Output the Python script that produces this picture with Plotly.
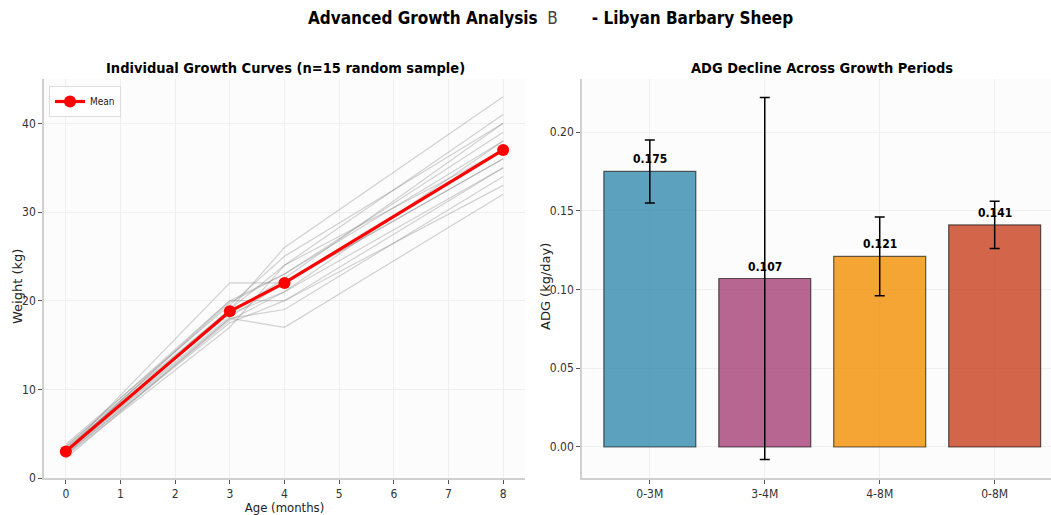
import plotly.graph_objects as go

# ---------------- data ----------------
ages = [0, 3, 4, 8]
individual_weights = [
    [3.0, 22.0, 22.0, 36.0],
    [3.5, 20.0, 20.0, 35.0],
    [2.8, 18.0, 17.0, 32.0],
    [3.2, 19.0, 26.0, 43.0],
    [2.5, 17.0, 24.0, 41.0],
    [3.8, 19.5, 25.0, 40.0],
    [2.2, 18.0, 19.0, 34.0],
    [3.0, 20.0, 23.0, 39.0],
    [3.3, 18.5, 21.0, 38.0],
    [2.7, 17.5, 20.0, 33.0],
    [3.6, 19.0, 24.0, 37.0],
    [2.9, 18.2, 22.0, 36.0],
    [3.1, 19.8, 23.0, 38.0],
    [2.6, 17.8, 21.0, 35.0],
    [3.4, 18.6, 22.5, 40.0],
]
mean_weights = [3.0, 18.8, 22.0, 37.0]

periods = ["0-3M", "3-4M", "4-8M", "0-8M"]
adg_values = [0.175, 0.107, 0.121, 0.141]
adg_errors = [0.020, 0.115, 0.025, 0.015]
bar_colors = ["rgba(46,134,171,0.78)", "rgba(162,59,114,0.78)",
              "rgba(241,143,1,0.8)", "rgba(199,62,29,0.8)"]

W, H = 1051, 515
COND = "DejaVu Sans Condensed, DejaVu Sans, sans-serif"
REG = "DejaVu Sans, sans-serif"

fig = go.Figure()

for i, w in enumerate(individual_weights):
    fig.add_trace(go.Scatter(x=ages, y=w, mode="lines",
                             line=dict(color="rgba(128,128,128,0.35)", width=1.2),
                             showlegend=False, hoverinfo="skip",
                             xaxis="x", yaxis="y"))
fig.add_trace(go.Scatter(x=ages, y=mean_weights, mode="lines+markers", name="Mean",
                         line=dict(color="#FF0000", width=3.2),
                         marker=dict(color="#FF0000", size=12),
                         xaxis="x", yaxis="y"))

fig.add_trace(go.Bar(x=periods, y=adg_values, width=0.8,
                     marker=dict(color=bar_colors,
                                 line=dict(color="rgba(0,0,0,0.6)", width=1.2)),
                     error_y=dict(type="data", array=adg_errors, visible=True,
                                  color="black", thickness=1.5, width=5),
                     showlegend=False, xaxis="x2", yaxis="y2"))

for p, v, e in zip(periods, adg_values, adg_errors):
    fig.add_annotation(x=p, y=v, xref="x2", yref="y2", text="<b>%.3f</b>" % v,
                       showarrow=False, yanchor="bottom", yshift=3,
                       font=dict(family=COND, size=12, color="black"))

ydom = [1 - 478 / H, 1 - 79 / H]
axis_common = dict(showline=True, linecolor="#D0D0D0", linewidth=1.5, mirror=False,
                   ticks="outside", ticklen=4, tickcolor="#555", tickwidth=1,
                   showgrid=True, gridcolor="#EFEFEF", gridwidth=1,
                   zeroline=False, automargin=False,
                   tickfont=dict(family=COND, size=12, color="#333"))

fig.update_layout(
    width=W, height=H,
    margin=dict(l=0, r=0, t=0, b=0),
    paper_bgcolor="white", plot_bgcolor="#FCFCFC",
    template="none",
    xaxis=dict(domain=[44 / W, 525 / W], range=[-0.4, 8.4], tickmode="array",
               tickvals=list(range(9)), anchor="y",
               title=dict(text="Age (months)", font=dict(family=COND, size=13, color="#222"),
                          standoff=4),
               **axis_common),
    yaxis=dict(domain=ydom, range=[0, 45], tickvals=[0, 10, 20, 30, 40], anchor="x",
               **axis_common),
    xaxis2=dict(domain=[582 / W, 1.0], range=[-0.59, 3.49], anchor="y2",
                **axis_common),
    yaxis2=dict(domain=ydom, range=[-0.0197, 0.2337], anchor="x2",
                tickvals=[0, 0.05, 0.10, 0.15, 0.20], tickformat=".2f",
                **axis_common),
    legend=dict(x=49 / W, y=1 - 86 / H, xanchor="left", yanchor="top",
                bgcolor="rgba(255,255,255,0.9)", bordercolor="#DDDDDD", borderwidth=1,
                font=dict(family=COND, size=10, color="#222"),
                itemwidth=30, tracegroupgap=0),
    showlegend=True,
)

# axis titles (y)
fig.add_annotation(xref="paper", yref="paper", x=17 / W, y=1 - 287 / H,
                   text="Weight (kg)", textangle=-90, showarrow=False,
                   xanchor="center", yanchor="middle",
                   font=dict(family=REG, size=13, color="#222"))
fig.add_annotation(xref="paper", yref="paper", x=545 / W, y=1 - 287 / H,
                   text="ADG (kg/day)", textangle=-90, showarrow=False,
                   xanchor="center", yanchor="middle",
                   font=dict(family=REG, size=13, color="#222"))

fig.add_annotation(xref="paper", yref="paper", x=550 / W, y=1 - 18 / H,
                   text="<b>Advanced Growth Analysis</b>  <span style='color:#444'>B</span>       <b>- Libyan Barbary Sheep</b>",
                   showarrow=False, xanchor="center", yanchor="middle",
                   font=dict(family=COND, size=17, color="black"))
fig.add_annotation(xref="paper", yref="paper", x=285 / W, y=1 - 68 / H,
                   text="<b>Individual Growth Curves (n=15 random sample)</b>",
                   showarrow=False, xanchor="center", yanchor="middle",
                   font=dict(family=COND, size=14.5, color="black"))
fig.add_annotation(xref="paper", yref="paper", x=822 / W, y=1 - 68 / H,
                   text="<b>ADG Decline Across Growth Periods</b>",
                   showarrow=False, xanchor="center", yanchor="middle",
                   font=dict(family=COND, size=14.5, color="black"))

fig.write_html("out.html", config={"displayModeBar": False},
               post_script="document.body.style.margin='0';document.body.style.padding='0';")
